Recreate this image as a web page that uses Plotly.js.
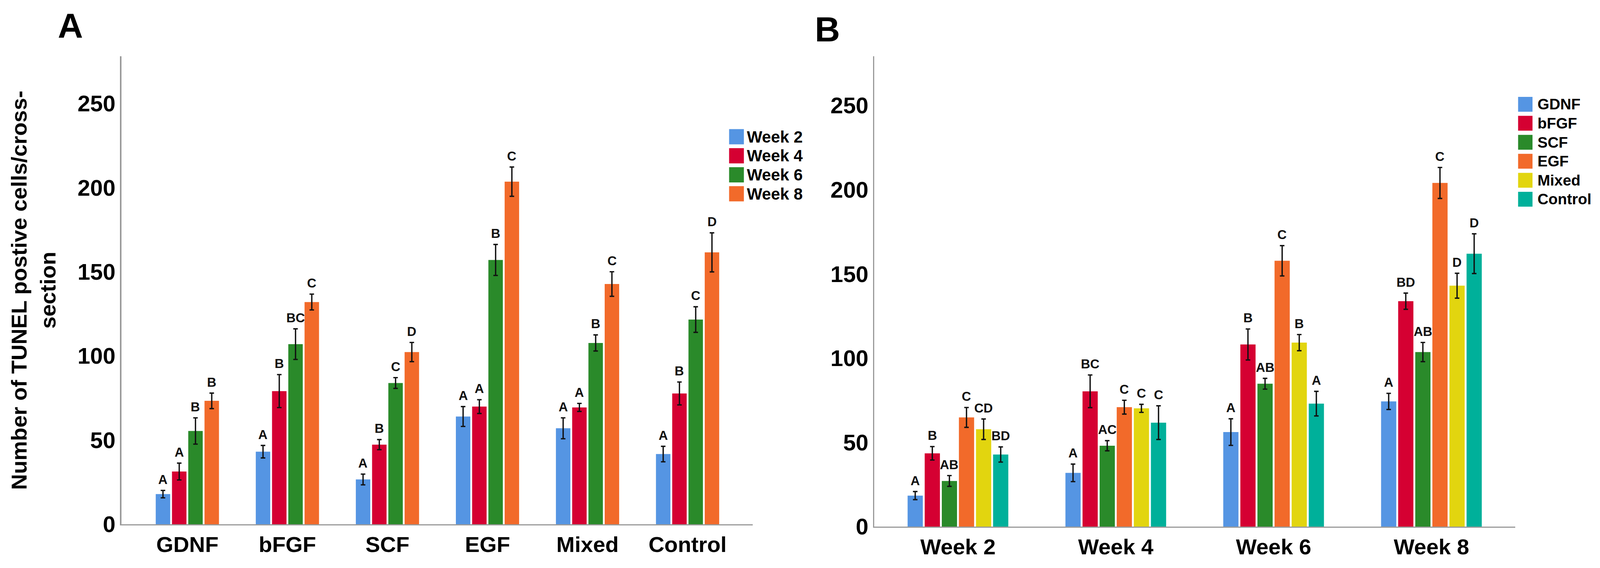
<!DOCTYPE html>
<html><head><meta charset="utf-8">
<script src="https://cdn.plot.ly/plotly-3.0.1.min.js"></script>
<style>html,body{margin:0;padding:0;background:#fff;overflow:hidden}#chart{position:absolute;left:0;top:0}</style>
</head><body><div id="chart"></div>
<script>
// ---------- Panel A data (groups = growth factor, series = week) ----------
const groupsA = ['GDNF', 'bFGF', 'SCF', 'EGF', 'Mixed', 'Control'];
const seriesA = ['Week 2', 'Week 4', 'Week 6', 'Week 8'];
const week2A = [17.9, 43.1, 26.6, 64.0, 57.0, 41.7];
const week4A = [31.3, 79.1, 47.3, 69.9, 69.4, 77.7];
const week6A = [55.4, 107.0, 83.9, 157.0, 107.7, 121.6];
const week8A = [73.3, 132.0, 102.3, 203.5, 142.7, 161.5];
const err2A = [2.2, 3.7, 3.2, 5.9, 6.2, 4.6];
const err4A = [5.0, 9.8, 3.0, 4.1, 2.4, 6.8];
const err6A = [7.8, 9.1, 3.2, 9.2, 4.8, 7.6];
const err8A = [4.6, 4.7, 5.7, 8.7, 7.3, 11.6];
const lab2A = ['A', 'A', 'A', 'A', 'A', 'A'];
const lab4A = ['A', 'B', 'B', 'A', 'A', 'B'];
const lab6A = ['B', 'BC', 'C', 'B', 'B', 'C'];
const lab8A = ['B', 'C', 'D', 'C', 'C', 'D'];

// ---------- Panel B data (groups = week, series = growth factor) ----------
const groupsB = ['Week 2', 'Week 4', 'Week 6', 'Week 8'];
const seriesB = ['GDNF', 'bFGF', 'SCF', 'EGF', 'Mixed', 'Control'];
const gdnfB = [18.4, 31.9, 56.1, 74.3];
const bfgfB = [43.5, 80.3, 108.1, 133.8];
const scfB = [27.1, 48.0, 84.8, 103.6];
const egfB = [64.8, 70.9, 157.8, 204.0];
const mixedB = [57.8, 70.2, 109.2, 143.0];
const controlB = [42.8, 61.7, 73.0, 162.0];
const errGdnfB = [2.4, 5.2, 7.9, 4.8];
const errBfgfB = [4.0, 9.7, 9.2, 4.8];
const errScfB = [3.2, 3.0, 3.2, 5.7];
const errEgfB = [5.9, 4.1, 9.0, 9.2];
const errMixedB = [6.1, 2.4, 4.8, 7.4];
const errControlB = [4.5, 10.0, 7.3, 11.8];
const labGdnfB = ['A', 'A', 'A', 'A'];
const labBfgfB = ['B', 'BC', 'B', 'BD'];
const labScfB = ['AB', 'AC', 'AB', 'AB'];
const labEgfB = ['C', 'C', 'C', 'C'];
const labMixedB = ['CD', 'C', 'B', 'D'];
const labControlB = ['BD', 'C', 'A', 'D'];

const yTicks = [0, 50, 100, 150, 200, 250];

// ---------- styling ----------
const colorsA = ['#5595E3', '#D50032', '#2A8A2A', '#F26A2A'];
const colorsB = ['#5595E3', '#D50032', '#2A8A2A', '#F26A2A', '#E2D50F', '#00B09A'];
const FONT = 'Liberation Sans, Arial, Helvetica, sans-serif';
const BARGAP = 0.35, BARGROUPGAP = 0.11;
const AXIS_COLOR = '#9a9a9a';

// reference canvas 4220 x 1454; adapt to the real viewport
const RW = 4220, RH = 1454;
const VW = window.innerWidth || document.documentElement.clientWidth || RW;
const VH = window.innerHeight || document.documentElement.clientHeight || RH;
const k = Math.min(VW / RW, VH / RH);
const px = v => v * k;

const valsA = [week2A, week4A, week6A, week8A];
const errsA = [err2A, err4A, err6A, err8A];
const labsA = [lab2A, lab4A, lab6A, lab8A];
const valsB = [gdnfB, bfgfB, scfB, egfB, mixedB, controlB];
const errsB = [errGdnfB, errBfgfB, errScfB, errEgfB, errMixedB, errControlB];
const labsB = [labGdnfB, labBfgfB, labScfB, labEgfB, labMixedB, labControlB];

const traces = [];
const annotations = [];

function addPanel(groups, names, vals, errs, labs, colors, xa, ya) {
  const n = names.length;
  const slot = (1 - BARGAP) / n;
  names.forEach((nm, i) => {
    traces.push({
      type: 'bar', name: nm, x: groups, y: vals[i],
      xaxis: xa, yaxis: ya, showlegend: false,
      marker: {color: colors[i], line: {width: 0}},
      error_y: {type: 'data', array: errs[i], visible: true, color: '#111111', thickness: px(3.5), width: px(6)},
      hoverinfo: 'x+y+name'
    });
    const off = -(1 - BARGAP) / 2 + slot * (i + 0.5);
    groups.forEach((g, j) => {
      annotations.push({
        xref: xa, yref: ya, x: j + off, y: vals[i][j] + errs[i][j],
        text: labs[i][j], showarrow: false, xanchor: 'center', yanchor: 'bottom', yshift: px(8),
        font: {family: FONT, size: px(34), color: '#111', weight: 'bold'}
      });
    });
  });
}
addPanel(groupsA, seriesA, valsA, errsA, labsA, colorsA, 'x', 'y');
addPanel(groupsB, seriesB, valsB, errsB, labsB, colorsB, 'x2', 'y2');

// ---------- manual legends (large squares), positions in reference pixels ----------
const shapes = [];
function addLegend(names, colors, boxX, firstY, step, size, textX, fsize) {
  names.forEach((nm, i) => {
    const cy = firstY + i * step;
    shapes.push({type: 'rect', xref: 'paper', yref: 'paper',
      x0: boxX / RW, x1: (boxX + size) / RW, y0: 1 - (cy + size / 2) / RH, y1: 1 - (cy - size / 2) / RH,
      fillcolor: colors[i], line: {width: 0}});
    annotations.push({xref: 'paper', yref: 'paper', x: textX / RW, y: 1 - cy / RH, text: nm,
      showarrow: false, xanchor: 'left', yanchor: 'middle',
      font: {family: FONT, size: px(fsize), color: '#000', weight: 'bold'}});
  });
}
addLegend(seriesA, colorsA, 1923, 350, 48.7, 39, 1968, 43);
addLegend(seriesB, colorsB, 4004, 267, 48.6, 38, 4053, 40);

// panel letters
annotations.push({xref: 'paper', yref: 'paper', x: 185 / RW, y: 1 - 66 / RH, text: 'A', showarrow: false,
  xanchor: 'center', yanchor: 'middle', font: {family: FONT, size: px(92), color: '#000', weight: 'bold'}});
annotations.push({xref: 'paper', yref: 'paper', x: 2182 / RW, y: 1 - 75 / RH, text: 'B', showarrow: false,
  xanchor: 'center', yanchor: 'middle', font: {family: FONT, size: px(92), color: '#000', weight: 'bold'}});

const tickFontY = {family: FONT, size: px(60), color: '#000', weight: 'bold'};
const tickFontX = {family: FONT, size: px(58), color: '#000', weight: 'bold'};
const baseX = {type: 'category', showline: true, linecolor: AXIS_COLOR, linewidth: px(3.5), ticks: '',
  showgrid: false, zeroline: false, tickfont: tickFontX, ticklabelstandoff: px(14), fixedrange: true};
const baseY = {showline: true, linecolor: AXIS_COLOR, linewidth: px(3.5), ticks: '', showgrid: false,
  zeroline: false, tickmode: 'array', tickvals: yTicks, ticktext: yTicks.map(String), tickfont: tickFontY,
  ticklabelstandoff: px(12), fixedrange: true};

const layout = {
  width: VW, height: VH, margin: {l: 0, r: 0, t: 0, b: 0, autoexpand: false},
  paper_bgcolor: '#fff', plot_bgcolor: '#fff', showlegend: false,
  barmode: 'group', bargap: BARGAP, bargroupgap: BARGROUPGAP,
  font: {family: FONT, color: '#000'},
  xaxis: Object.assign({}, baseX, {domain: [320 / RW, 1985 / RW], range: [-0.66, 5.65], anchor: 'y'}),
  yaxis: Object.assign({}, baseY, {domain: [1 - 1342 / RH, 1 - 144 / RH], range: [0, 278], anchor: 'x',
    title: {text: 'Number of TUNEL postive cells/cross-<br>section', standoff: px(40),
      font: {family: FONT, size: px(58), color: '#000', weight: 'bold'}}}),
  xaxis2: Object.assign({}, baseX, {domain: [2306 / RW, 3996 / RW], range: [-0.53, 3.53], anchor: 'y2'}),
  yaxis2: Object.assign({}, baseY, {domain: [1 - 1348 / RH, 1 - 144 / RH], range: [0, 279.2], anchor: 'x2'}),
  annotations: annotations, shapes: shapes
};
document.getElementById('chart').style.width = VW + 'px';
document.getElementById('chart').style.height = VH + 'px';
Plotly.newPlot('chart', traces, layout, {displayModeBar: false, staticPlot: true});
</script></body></html>
